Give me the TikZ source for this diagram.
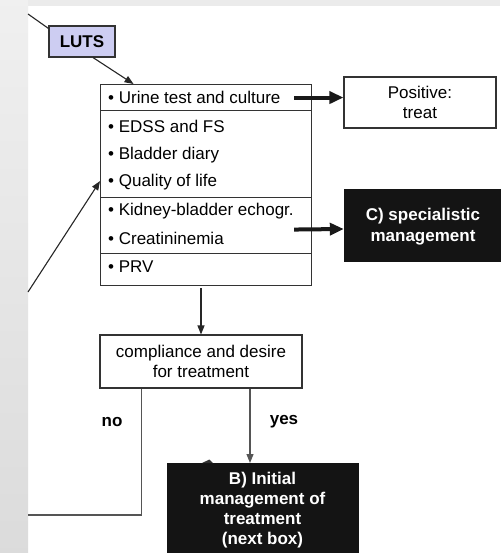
\documentclass[tikz,border=0pt]{standalone}
\usepackage{fontspec}
\setmainfont{Liberation Sans}
\usetikzlibrary{arrows.meta}
\definecolor{lav}{HTML}{CDCDF2}
\definecolor{boxline}{HTML}{333333}
\definecolor{darkfill}{HTML}{141414}
\definecolor{noline}{HTML}{555555}
\begin{document}
\begin{tikzpicture}[x=1pt,y=-1pt,
  every node/.style={font=\fontsize{17}{20}\selectfont, inner sep=0pt},
  sect/.style={draw=boxline, line width=1.1pt, anchor=north west, minimum width=211pt},
  item/.style={anchor=mid west},
  plainbox/.style={draw=boxline, line width=1.1pt, align=center},
  darkbox/.style={fill=darkfill, draw=darkfill},
  whitebold/.style={text=white, align=center, font=\fontsize{17}{20.5}\selectfont\bfseries},
  lbl/.style={font=\fontsize{17}{20}\selectfont\bfseries},
  thinarrow/.style={-{Triangle[length=9pt,width=7pt]}, line width=1.1pt, draw=black!85},
  thickarrow/.style={-{Triangle[length=14pt,width=12pt]}, line width=4pt, draw=black!90}]
\useasboundingbox (0,0) rectangle (500,553);
% page background: white sheet with grey margins
\fill[white] (0,0) rectangle (500,553);
\fill[black!8] (0,0) rectangle (500,6);
\shade[top color=black!6, bottom color=black!14] (0,0) rectangle (28,553);

% free ends at the sheet margin
\coordinate (inA) at (28,14);
\coordinate (inB) at (28,292);
\coordinate (noend) at (28,515);

% LUTS entry box
\node[draw=boxline, line width=1.1pt, fill=lav, minimum width=66pt, minimum height=31pt, lbl] (luts) at (82,41.5) {LUTS};

% assessment box, four sections
\node[sect, minimum height=26pt] (urine) at (100,84) {};
\node[sect, minimum height=87pt] (sec2) at (100,110) {};
\node[sect, minimum height=56pt] (sec3) at (100,197) {};
\node[sect, minimum height=32pt] (sec4) at (100,253) {};

\node[item] (t1) at (108,100.5) {• Urine test and culture};
\node[item] (t2) at (108,130) {• EDSS and FS};
\node[item] (t3) at (108,157) {• Bladder diary};
\node[item] (t4) at (108,183.5) {• Quality of life};
\node[item] (t5) at (108,213) {• Kidney-bladder echogr.};
\node[item] (t6) at (108,242) {• Creatininemia};
\node[item] (t7) at (108,270) {• PRV};

% outcome boxes on the right
\node[plainbox, minimum width=152pt, minimum height=51pt] (pos) at (420,102.5) {Positive:\\treat};
\node[darkbox, minimum width=158pt, minimum height=72pt] (cbox) at (423,225) {};
\node[whitebold] (ctext) at (423,226.5) {C) specialistic\\management};

% decision box
\node[plainbox, minimum width=202pt, minimum height=53pt] (comp) at (201,361.5) {compliance and desire\\for treatment};

% next step box
\node[darkbox, anchor=north, minimum width=191pt, minimum height=100pt] (bbox) at (262.5,463) {};
\node[whitebold, font=\fontsize{17}{20}\selectfont\bfseries] (btext) at (262.5,510) {B) Initial\\management of\\treatment\\(next box)};
\fill[boxline] (202,463) -- (209.5,459.5) -- (213,463) -- cycle;

% connectors
\draw[line width=1.1pt, draw=black!85] (inA) -- ([yshift=-3pt]luts.north west);
\draw[thinarrow] ([xshift=11pt]luts.south) -- ([xshift=-72.5pt]urine.north);
\draw[thinarrow] (inB) -- ([yshift=17pt]sec2.south west);
\draw[thickarrow] ([xshift=-18pt]urine.east) -- (urine.east -| pos.west);
\draw[thickarrow] ([xshift=-18pt,yshift=-4pt]sec3.east) -- ([yshift=-4pt]cbox.west);
\draw[thinarrow] ([yshift=-2pt]comp.north |- sec4.south) -- (comp.north);
\draw[line width=1.5pt, draw=noline] ([xshift=42pt]comp.south west) |- (noend);
\draw[thinarrow, draw=noline] ([xshift=49pt]comp.south) -- ([xshift=49pt]comp.south |- bbox.north);

% branch labels
\node[lbl] (nolbl) at (112,422) {no};
\node[lbl] (yeslbl) at (284,422) {yes};
\end{tikzpicture}
\end{document}
